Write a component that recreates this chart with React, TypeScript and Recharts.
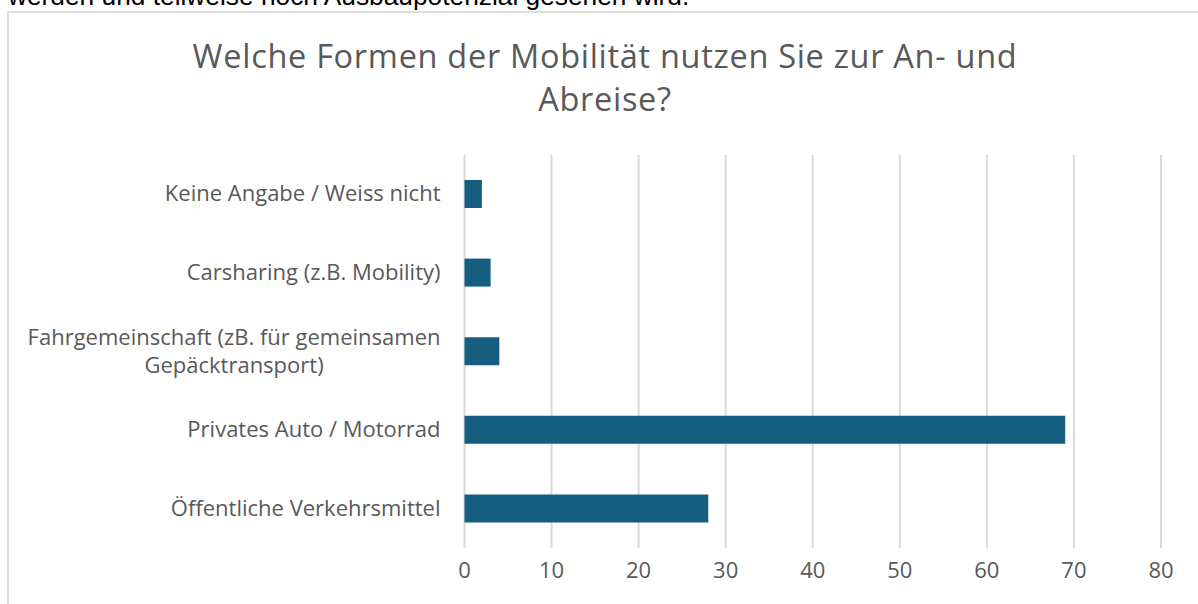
import { BarChart, Bar, XAxis, YAxis, CartesianGrid } from 'recharts';

// categories from top to bottom, as drawn
const categories = [
  'Keine Angabe / Weiss nicht',
  'Carsharing (z.B. Mobility)',
  'Fahrgemeinschaft (zB. für gemeinsamen\nGepäcktransport)',
  'Privates Auto / Motorrad',
  'Öffentliche Verkehrsmittel',
];
const counts = [2, 3, 4, 69, 28];
const xTicks = [0, 10, 20, 30, 40, 50, 60, 70, 80];

const data = categories.map((name, i) => ({ name, value: counts[i] }));

const FONT = "'Open Sans', 'Noto Sans', sans-serif";
const LABEL_SIZE = 22;
const GRAY = '#595959';

let measureCtx: CanvasRenderingContext2D | null = null;
function textWidth(s: string) {
  if (!measureCtx) {
    const c = document.createElement('canvas');
    measureCtx = c.getContext('2d');
  }
  if (!measureCtx) return s.length * LABEL_SIZE * 0.5;
  measureCtx.font = `${LABEL_SIZE}px 'Open Sans'`;
  return measureCtx.measureText(s).width;
}

// right-aligned label block, lines centred inside the block (like Excel)
function CategoryTick(props: any) {
  const { x, y, payload } = props;
  const lines: string[] = String(payload.value).split('\n');
  const lineH = 28;
  const widths = lines.map(textWidth);
  const maxW = Math.max(...widths);
  const startY = y - ((lines.length - 1) * lineH) / 2;
  return (
    <g>
      {lines.map((line, i) => (
        <text
          key={i}
          x={lines.length > 1 ? x - maxW / 2 : x}
          y={startY + i * lineH}
          dy="0.32em"
          textAnchor={lines.length > 1 ? 'middle' : 'end'}
          fill={GRAY}
          fontSize={LABEL_SIZE}
          fontFamily={FONT}
        >
          {line}
        </text>
      ))}
    </g>
  );
}

export default function App() {
  return (
    <div
      style={{
        position: 'absolute',
        left: 0,
        top: 0,
        width: 1198,
        height: 604,
        overflow: 'hidden',
        background: '#fff',
      }}
    >
      <div
        style={{
          position: 'absolute',
          left: 8,
          top: -19,
          whiteSpace: 'nowrap',
          fontFamily: "'Liberation Sans', Arial, sans-serif",
          fontSize: 26.3,
          color: '#000',
        }}
      >
        werden und teilweise noch Ausbaupotenzial gesehen wird.
      </div>
      <div
        style={{
          position: 'absolute',
          left: 7,
          top: 11,
          width: 1400,
          height: 800,
          border: '2px solid #dedede',
        }}
      />
      <div
        style={{
          position: 'absolute',
          left: 0,
          top: 34,
          width: 1210,
          textAlign: 'center',
          fontFamily: FONT,
          fontSize: 32.5,
          letterSpacing: 0.7,
          lineHeight: '43px',
          color: GRAY,
        }}
      >
        Welche Formen der Mobilität nutzen Sie zur An- und
        <br />
        Abreise?
      </div>
      <div style={{ position: 'absolute', left: 0, top: 0 }}>
        <BarChart
          width={1198}
          height={604}
          data={data}
          layout="vertical"
          margin={{ top: 155, right: 37, bottom: 0, left: 0 }}
          barSize={28}
        >
          <CartesianGrid horizontal={false} stroke="#d9d9d9" strokeWidth={2} />
          <XAxis
            type="number"
            domain={[0, 80]}
            ticks={xTicks}
            height={56}
            axisLine={false}
            tickLine={false}
            tickSize={0}
            tickMargin={14}
            tick={{ fill: GRAY, fontSize: LABEL_SIZE, fontFamily: FONT }}
          />
          <YAxis
            type="category"
            dataKey="name"
            width={464.5}
            axisLine={false}
            tickLine={false}
            tickSize={0}
            tickMargin={24}
            tick={<CategoryTick />}
            interval={0}
          />
          <Bar dataKey="value" fill="#165e80" isAnimationActive={false} />
        </BarChart>
      </div>
    </div>
  );
}
